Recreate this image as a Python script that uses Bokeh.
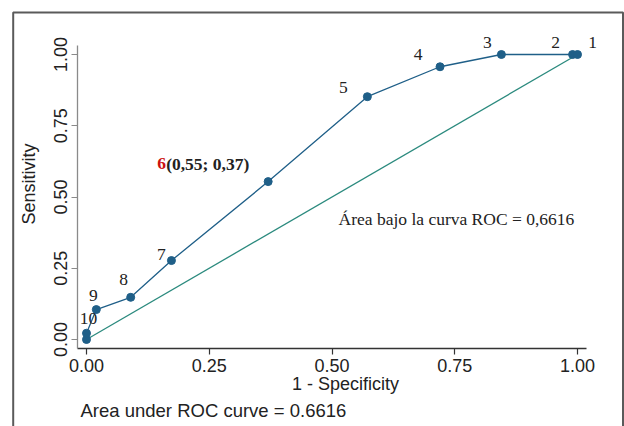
from bokeh.plotting import figure
from bokeh.models import (ColumnDataSource, Range1d, FixedTicker, Label,
                          CustomJSTickFormatter, LinearAxis)
from bokeh.core.properties import value
from bokeh.embed import file_html
from bokeh.resources import INLINE

# ---- data ----
one_minus_spec = [0.0, 0.0, 0.02, 0.09, 0.173, 0.37, 0.572, 0.72, 0.845, 0.99, 1.0]
sensitivity   = [0.0, 0.022, 0.105, 0.148, 0.277, 0.554, 0.852, 0.957, 1.0, 1.0, 1.0]
point_labels  = ["", "10", "9", "8", "7", "", "5", "4", "3", "2", "1"]
highlight_idx = 5          # point 6
highlight_num = "6"
highlight_txt = "(0,55; 0,37)"
ref_x = [0.0, 1.0]
ref_y = [0.0, 1.0]
ticks = [0.0, 0.25, 0.5, 0.75, 1.0]
x_title = "1 - Specificity"
y_title = "Sensitivity"
auc_en = "Area under ROC curve = 0.6616"
auc_es = "Área bajo la curva ROC = 0,6616"

# label offsets in screen px (style, not data)
lab_dx = [0, 2, -3, -7, -10, 0, -24, -22, -14, -17, 15]
lab_dy = [0, -15, -14, -18, -6, 0, -9, -12, -12, -12, -12]

BLUE = "#1f5f88"
TEAL = "#2b8a7e"
AXC = "#333333"
TXT = "#222222"

W, H = 624, 426
# page-pixel layout of the graph region (0 and 1 of both axes)
X0, XS = 86.0, 491.0
Y0, YS = 339.0, 285.0
def px2x(px):
    return (px - X0) / XS
def py2y(py):
    return (Y0 - py) / YS

p = figure(width=W, height=H, output_backend="svg", toolbar_location=None,
           x_range=Range1d(px2x(0), px2x(W)), y_range=Range1d(py2y(H), py2y(0)),
           min_border_left=0, min_border_right=0, min_border_top=0,
           min_border_bottom=0)
p.outline_line_color = None
p.xgrid.visible = False
p.ygrid.visible = False
p.background_fill_color = "white"
p.border_fill_color = "white"

# outer graph frame (left, top, right sides)
p.line([px2x(12.7), px2x(12.7), px2x(622.5), px2x(622.5)],
       [py2y(H + 5), py2y(12), py2y(12), py2y(H + 5)],
       line_color="#5a5a5a", line_width=2)

# axes
xa, ya = p.xaxis[0], p.yaxis[0]
for ax in (xa, ya):
    ax.ticker = FixedTicker(ticks=ticks)
    ax.formatter = CustomJSTickFormatter(code="return tick.toFixed(2);")
    ax.minor_tick_line_color = None
    ax.major_tick_in = 0
    ax.major_tick_out = 6
    ax.axis_line_color = AXC
    ax.major_tick_line_color = AXC
    ax.axis_line_width = 1.3
    ax.major_tick_line_width = 1.2
    ax.major_label_text_font = "Liberation Sans"
    ax.major_label_text_font_size = "18px"
    ax.major_label_text_color = TXT
xa.fixed_location = py2y(348)
xa.bounds = (px2x(77), px2x(586))
ya.fixed_location = px2x(77)
ya.bounds = (py2y(348), py2y(45))
xa.major_label_standoff = 4
ya.major_label_orientation = "vertical"
ya.major_label_standoff = 5
ya.axis_line_color = "#8a8a8a"
ya.major_tick_line_color = "#8a8a8a"

# axis titles (centred as in the original graph region)
xt = LinearAxis(ticker=FixedTicker(ticks=[]), axis_label=x_title,
                fixed_location=py2y(348), bounds=(px2x(77), px2x(613)),
                axis_line_color=None, major_tick_line_color=None,
                minor_tick_line_color=None, major_tick_out=0, minor_tick_out=0,
                axis_label_standoff=25, axis_label_text_font="Liberation Sans",
                axis_label_text_font_size="18px", axis_label_text_font_style="normal",
                axis_label_text_color=TXT)
p.add_layout(xt, "below")
yt = LinearAxis(ticker=FixedTicker(ticks=[]), axis_label=y_title,
                fixed_location=px2x(77), bounds=(py2y(322), py2y(45)),
                axis_line_color=None, major_tick_line_color=None,
                minor_tick_line_color=None, major_tick_out=0, minor_tick_out=0,
                axis_label_standoff=39, axis_label_text_font="Liberation Sans",
                axis_label_text_font_size="18px", axis_label_text_font_style="normal",
                axis_label_text_color=TXT)
p.add_layout(yt, "left")

# bottom note
p.add_layout(Label(x=px2x(80), y=py2y(410), text=auc_en, text_font="Liberation Sans",
                   text_font_size="18.5px", text_color=TXT,
                   text_baseline="middle", text_align="left"))

# reference diagonal
p.line(ref_x, ref_y, line_color=TEAL, line_width=1.3)

# ROC curve
src = ColumnDataSource(dict(x=one_minus_spec, y=sensitivity, lab=point_labels,
                            dx=lab_dx, dy=lab_dy))
p.line("x", "y", source=src, line_color=BLUE, line_width=1.3)
p.scatter("x", "y", source=src, size=8, fill_color=BLUE, line_color=BLUE)
p.text("x", "y", text="lab", source=src, x_offset="dx", y_offset="dy",
       text_font=value("Liberation Serif"), text_font_size="17.5px",
       text_color=TXT, text_align="center", text_baseline="middle")

# highlighted point label
hx = [one_minus_spec[highlight_idx]]
hy = [sensitivity[highlight_idx]]
p.text(hx, hy, text=[highlight_num], x_offset=-111, y_offset=-18,
       text_font=value("Liberation Serif"), text_font_size="17.5px",
       text_font_style="bold", text_color="#cc1111",
       text_align="left", text_baseline="middle")
p.text(hx, hy, text=[highlight_txt], x_offset=-102, y_offset=-18,
       text_font=value("Liberation Serif"), text_font_size="17.5px",
       text_font_style="bold", text_color=TXT,
       text_align="left", text_baseline="middle")

# AUC annotation inside the plot
p.add_layout(Label(x=px2x(338), y=py2y(218), text=auc_es, text_font="Liberation Serif",
                   text_font_size="17.5px", text_color=TXT,
                   text_baseline="middle", text_align="left"))

open("out.html", "w").write(file_html(p, INLINE))
